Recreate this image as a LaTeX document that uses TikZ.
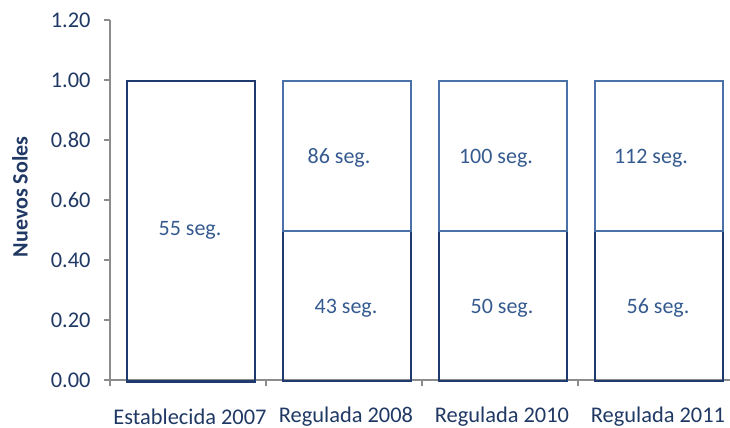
\documentclass[tikz,border=0pt]{standalone}
\usepackage{fontspec}
\setmainfont{Carlito}
\definecolor{navy}{HTML}{1F3A6E}
\definecolor{barblue}{HTML}{4A72A8}
\definecolor{txtblue}{HTML}{355A8F}
\definecolor{axisnavy}{HTML}{1F3864}
\definecolor{axisgray}{HTML}{8C8C8C}

\begin{document}
\begin{tikzpicture}[x=0.5pt,y=-0.5pt]
\tikzstyle{seg}=[rectangle,draw=#1,line width=1pt,minimum width=64pt,inner sep=0pt,anchor=north west]
\tikzstyle{lbl}=[text=txtblue,font=\fontsize{11}{13}\selectfont,inner sep=0pt]
\tikzstyle{tlbl}=[text=axisnavy,font=\fontsize{11.2}{13}\selectfont,inner sep=0pt]
\useasboundingbox (0,0) rectangle (730,428);

% axes
\coordinate (O) at (110,380);
\coordinate (T) at (110,20);
\coordinate (R) at (730,380);
\draw[axisgray,line width=0.75pt] (T) -- (O) -- (R);
\foreach \v/\y in {0.00/380,0.20/320,0.40/260,0.60/200,0.80/140,1.00/80,1.20/20}{
  \draw[axisgray,line width=0.75pt] (104,\y) -- (110,\y);
  \node[tlbl,anchor=east] (y\y) at (91,\y) {\v};
}
\foreach \x in {110,266,422,578}{
  \draw[axisgray,line width=0.75pt] (\x,380) -- (\x,386);
}
\node[text=axisnavy,font=\fontsize{11}{13}\selectfont\bfseries,rotate=90] (title) at (20,197) {Nuevos Soles};

% bars
\node[seg=navy,minimum height=150pt] (E07) at (126,80) {};
\node[seg=navy,minimum height=75pt] (R08a) at (282,230) {};
\node[seg=barblue,minimum height=75pt] (R08b) at (282,80) {};
\node[seg=navy,minimum height=75pt] (R10a) at (438,230) {};
\node[seg=barblue,minimum height=75pt] (R10b) at (438,80) {};
\node[seg=navy,minimum height=75pt] (R11a) at (594,230) {};
\node[seg=barblue,minimum height=75pt] (R11b) at (594,80) {};
\draw[navy,line width=1pt] (E07.south west) -- (E07.south east);

% values
\node[lbl] (v07) at (190,230) {55 seg.};
\node[lbl] (v08a) at (346,308) {43 seg.};
\node[lbl] (v08b) at (339,158) {86 seg.};
\node[lbl] (v10a) at (502,308) {50 seg.};
\node[lbl] (v10b) at (496,158) {100 seg.};
\node[lbl] (v11a) at (658,308) {56 seg.};
\node[lbl] (v11b) at (651,158) {112 seg.};

% categories
\node[tlbl] (c07) at (190,417) {Establecida 2007};
\node[tlbl] (c08) at (346,417) {Regulada 2008};
\node[tlbl] (c10) at (502,417) {Regulada 2010};
\node[tlbl] (c11) at (658,417) {Regulada 2011};
\end{tikzpicture}
\end{document}
